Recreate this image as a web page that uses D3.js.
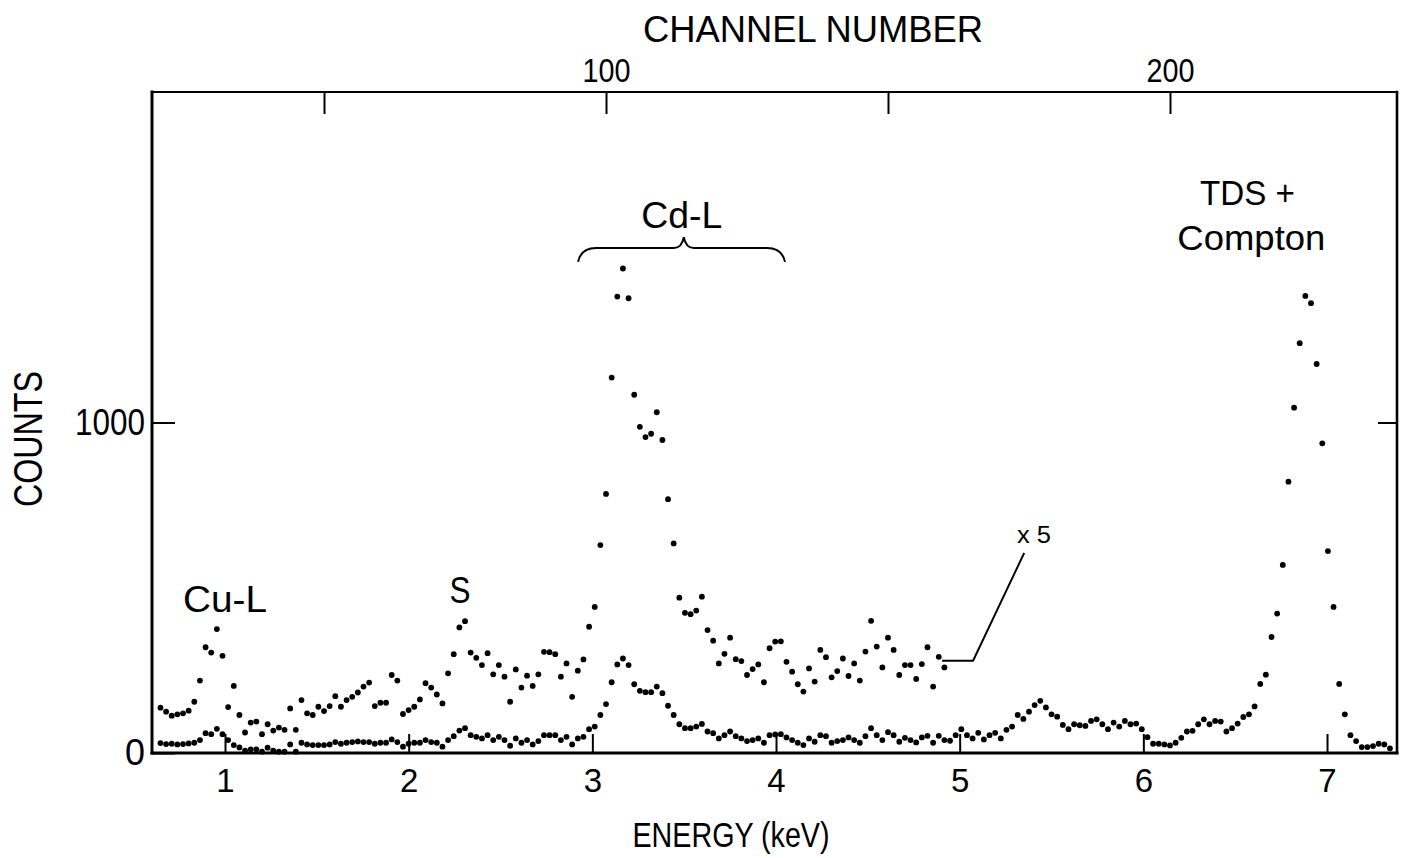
<!DOCTYPE html>
<html lang="en">
<head>
  <meta charset="utf-8">
  <title>EDX spectrum – counts vs energy</title>
  <script src="https://cdn.jsdelivr.net/npm/d3@7/dist/d3.min.js"></script>
  <style>
    html, body { margin: 0; padding: 0; background: #fff; }
    svg text { font-family: "Liberation Sans", Arial, sans-serif; fill: #000; }
  </style>
</head>
<body>
  <svg id="chart" width="1409" height="858"></svg>

  <script>
    /*********************************************************************
     * 1.  Data (one value per channel)            *
     *********************************************************************/
    const firstChannel = 21;

    // spectrum as recorded (full energy range)
    const countsLow = [
      30, 27, 28, 26, 27, 29, 31, 39, 60, 57, 73, 57, 39, 24, 17, 7, 11, 11, 4, 16,
      7, 4, 4, 26, 4, 31, 26, 24, 24, 24, 26, 33, 28, 31, 33, 35, 33, 33, 28, 31,
      31, 41, 33, 19, 28, 31, 31, 39, 33, 31, 19, 39, 51, 68, 75, 54, 49, 44, 54, 39,
      49, 39, 22, 44, 31, 39, 26, 36, 54, 54, 54, 39, 49, 26, 44, 49, 72, 80, 115, 148,
      214, 268, 286, 266, 208, 188, 184, 184, 201, 181, 143, 115, 87, 75, 75, 80, 88, 65, 60, 44,
      54, 65, 51, 44, 36, 39, 44, 31, 54, 56, 57, 47, 39, 31, 24, 44, 34, 54, 51, 31,
      36, 39, 47, 39, 31, 51, 75, 54, 39, 63, 54, 34, 46, 39, 32, 47, 52, 31, 52, 39,
      37, 54, 72, 54, 44, 61, 41, 54, 61, 44, 70, 80, 115, 103, 125, 145, 158, 138, 117, 110,
      85, 72, 87, 84, 82, 97, 102, 87, 72, 92, 80, 97, 87, 89, 72, 48, 28, 28, 26, 23,
      31, 46, 65, 67, 87, 102, 87, 97, 95, 65, 75, 89, 109, 117, 141, 209, 237, 351, 422, 569,
      821, 1045, 1240, 1383, 1361, 1177, 937, 611, 442, 209, 117, 54, 36, 18, 18, 21, 28, 26, 14
    ];

    // low-energy part magnified x5
    const countsX5 = [
      137, 125, 113, 117, 120, 128, 155, 219, 320, 304, 375, 294, 139, 203, 115, 62, 92, 95, 57, 87,
      68, 77, 70, 135, 70, 160, 120, 115, 140, 127, 142, 172, 140, 160, 170, 183, 201, 213, 142, 152,
      152, 236, 219, 118, 130, 140, 162, 211, 198, 177, 150, 241, 299, 380, 399, 304, 288, 266, 302, 238,
      266, 231, 155, 253, 198, 234, 203, 238, 306, 305, 299, 231, 271, 170, 249, 283, 382, 442, 629, 784,
      1136, 1381, 1466, 1376, 1084, 987, 956, 966, 1031, 947, 768, 634, 470, 424, 420, 431, 473, 372, 340, 271,
      300, 349, 284, 278, 236, 254, 268, 214, 317, 337, 338, 276, 246, 208, 186, 256, 216, 312, 290, 229,
      248, 286, 233, 271, 219, 307, 400, 322, 259, 349, 312, 236, 266, 266, 224, 269, 320, 201, 291, 259
    ];

    const energyTicks  = [1, 2, 3, 4, 5, 6, 7];
    const channelTicks = [50, 100, 150, 200];
    const channelLabels = [100, 200];
    const countTicks   = [0, 1000];

    /*********************************************************************
     * 2.  Scales                                                         *
     *********************************************************************/
    const frame = { left: 152, right: 1397, top: 92, bottom: 753 };

    const xE = d3.scaleLinear().domain([0.6025, 7.381]).range([frame.left, frame.right]);
    const xC = d3.scaleLinear().domain([19.5, 240.25]).range([frame.left, frame.right]);
    const y  = d3.scaleLinear().domain([0, 2000]).range([frame.bottom, frame.top]);

    const svg = d3.select('#chart');

    /*********************************************************************
     * 3.  Axes (ticks inward, frame drawn separately)                    *
     *********************************************************************/
    const gB = svg.append('g')
      .attr('transform', `translate(0,${frame.bottom})`)
      .call(d3.axisBottom(xE).tickValues(energyTicks).tickSize(-19).tickPadding(16)
            .tickFormat(d3.format('d')));

    const gT = svg.append('g')
      .attr('transform', `translate(0,${frame.top})`)
      .call(d3.axisTop(xC).tickValues(channelTicks).tickSize(-22).tickPadding(10)
            .tickFormat(d => channelLabels.includes(d) ? d : ''));

    const gL = svg.append('g')
      .attr('transform', `translate(${frame.left},0)`)
      .call(d3.axisLeft(y).tickValues(countTicks).tickSize(-23).tickPadding(7)
            .tickFormat(d3.format('d')));

    const gR = svg.append('g')
      .attr('transform', `translate(${frame.right},0)`)
      .call(d3.axisRight(y).tickValues([1000]).tickSize(-19).tickFormat(''));

    [gB, gT, gL, gR].forEach(g => {
      g.select('.domain').remove();
      g.selectAll('.tick line').attr('stroke', '#000').attr('stroke-width', 2);
      g.selectAll('.tick text')
        .attr('fill', '#000')
        .style('font-family', '"Liberation Sans", Arial, sans-serif');
    });
    gB.selectAll('.tick text').attr('font-size', 33);
    gT.selectAll('.tick text').attr('font-size', 33).attr('textLength', 48).attr('lengthAdjust', 'spacingAndGlyphs');
    gL.selectAll('.tick text').attr('font-size', 36)
      .attr('textLength', d => d === 0 ? 20 : 70).attr('lengthAdjust', 'spacingAndGlyphs');

    // frame
    const frameLines = [
      [frame.left, frame.top, frame.left, frame.bottom, 3],
      [frame.left, frame.bottom, frame.right, frame.bottom, 3],
      [frame.left, frame.top, frame.right, frame.top, 2.2],
      [frame.right, frame.top, frame.right, frame.bottom, 2.6]
    ];
    svg.append('g').selectAll('line')
      .data(frameLines)
      .join('line')
        .attr('x1', d => d[0]).attr('y1', d => d[1])
        .attr('x2', d => d[2]).attr('y2', d => d[3])
        .attr('stroke', '#000').attr('stroke-width', d => d[4])
        .attr('stroke-linecap', 'square');

    /*********************************************************************
     * 4.  Axis titles                                                    *
     *********************************************************************/
    function label (text, x, yy, size, len, anchor = 'middle') {
      const t = svg.append('text')
        .attr('x', x).attr('y', yy)
        .attr('font-size', size)
        .attr('text-anchor', anchor)
        .text(text);
      if (len) t.attr('textLength', len).attr('lengthAdjust', 'spacingAndGlyphs');
      return t;
    }

    label('CHANNEL NUMBER', 813, 42, 36, 340);
    label('ENERGY (keV)', 731, 847, 35, 197);
    label('COUNTS', 0, 0, 40, 136)
      .attr('transform', 'translate(42,439) rotate(-90)');

    /*********************************************************************
     * 5.  Data points                                                    *
     *********************************************************************/
    const dots = svg.append('g').attr('fill', '#000');

    dots.selectAll('circle.x5')
      .data(countsX5)
      .join('circle')
        .attr('class', 'x5')
        .attr('cx', (d, i) => xC(firstChannel + i))
        .attr('cy', d => y(d))
        .attr('r', 2.9);

    dots.selectAll('circle.low')
      .data(countsLow)
      .join('circle')
        .attr('class', 'low')
        .attr('cx', (d, i) => xC(firstChannel + i))
        .attr('cy', d => y(d))
        .attr('r', 2.9);

    /*********************************************************************
     * 6.  Peak annotations                                               *
     *********************************************************************/
    label('Cu-L', xE(1.0),   y(427),  36, 84);
    label('S',    xE(2.279), y(454),  36, 21);
    label('Cd-L', xE(3.487), y(1588), 36, 81);
    label('TDS +', xE(6.308), y(1658), 35, 95, 'start');
    label('Compton', xE(6.588), y(1522), 35, 148);
    label('x 5', xE(5.312), y(635), 23, 34, 'start');

    // brace over the Cd-L group
    const bx0 = xE(2.922), bx1 = xE(4.049), bxm = xE(3.498);
    const by0 = y(1486), by1 = y(1528), byc = y(1561);
    svg.append('path')
      .attr('d', `M${bx0},${by0} Q${bx0 + 3},${by1} ${bx0 + 18},${by1} L${bxm - 10},${by1}
                  Q${bxm - 2},${by1} ${bxm},${byc} Q${bxm + 2},${by1} ${bxm + 10},${by1}
                  L${bx1 - 18},${by1} Q${bx1 - 3},${by1} ${bx1},${by0}`)
      .attr('fill', 'none').attr('stroke', '#000').attr('stroke-width', 2);

    // leader from the x5 trace to its label
    const lead = [[4.904, 279], [5.073, 279], [5.351, 605]];
    svg.append('path')
      .attr('d', d3.line().x(d => xE(d[0])).y(d => y(d[1]))(lead))
      .attr('fill', 'none').attr('stroke', '#000').attr('stroke-width', 2);
  </script>
</body>
</html>
